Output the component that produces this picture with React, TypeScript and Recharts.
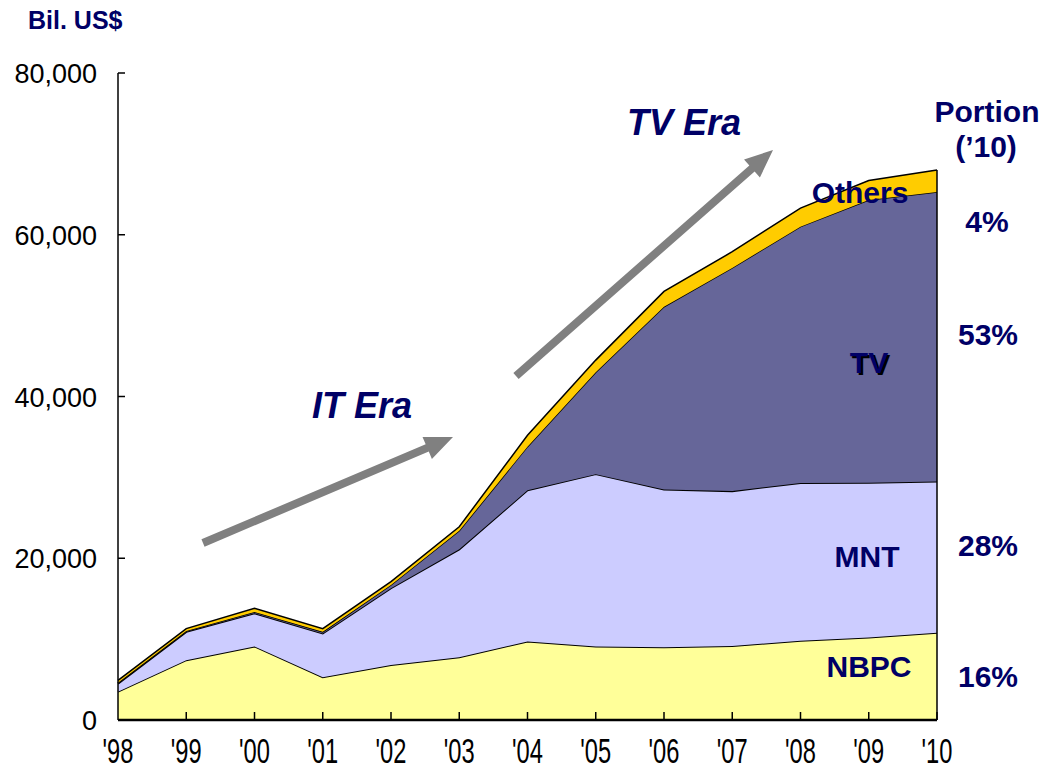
import React from 'react'
import { Area, AreaChart, ReferenceLine, XAxis, YAxis } from 'recharts'

// years and stacked values (Bil. US$)
const years = ["'98", "'99", "'00", "'01", "'02", "'03", "'04", "'05", "'06", "'07", "'08", "'09", "'10"]
const nbpc = [3500, 7400, 9100, 5300, 6800, 7750, 9700, 9100, 9000, 9150, 9800, 10200, 10800]
const mnt = [1000, 3500, 4100, 5400, 9500, 13350, 18700, 21300, 19500, 19150, 19500, 19150, 18700]
const tv = [100, 100, 150, 200, 400, 2300, 5400, 12600, 22600, 27600, 31700, 34950, 35800]
const others = [300, 300, 450, 400, 400, 500, 1400, 1500, 1900, 2000, 2300, 2400, 2700]
const yTicks = [0, 20000, 40000, 60000, 80000]

const data = years.map((year, i) => ({ year, NBPC: nbpc[i], MNT: mnt[i], TV: tv[i], Others: others[i] }))
const last = years.length - 1
const total2010 = nbpc[last] + mnt[last] + tv[last] + others[last]

const navy = '#000066'
const sans = '"Liberation Sans", Arial, sans-serif'

const XTick = (props: any) => {
  const { x, y, payload, index } = props
  return (
    <g>
      {index > 0 && <line x1={x} x2={x} y1={y - 8} y2={y} stroke="#000" strokeWidth={1.5} />}
      {/* condensed look of the original labels */}
      <text transform={`translate(${x},${y + 43}) scale(0.74,1.08)`} textAnchor="middle" fontFamily={sans}
        fontSize={32} fill="#000">
        {payload.value}
      </text>
    </g>
  )
}

const YTick = (props: any) => {
  const { x, y, payload } = props
  return (
    <g>
      <line x1={x} x2={x + 7} y1={y} y2={y} stroke="#000" strokeWidth={1.5} />
      <text x={x - 21} y={y + 10} textAnchor="end" fontFamily={sans} fontSize={27} fill="#000">
        {payload.value.toLocaleString('en-US')}
      </text>
    </g>
  )
}

// simple thick arrow polygon
const arrow = (x1: number, y1: number, x2: number, y2: number) => {
  const dx = x2 - x1, dy = y2 - y1
  const len = Math.sqrt(dx * dx + dy * dy)
  const ux = dx / len, uy = dy / len
  const px = -uy, py = ux
  const w = 4, hw = 12, hl = 28
  const bx = x2 - ux * hl, by = y2 - uy * hl
  const pts = [
    [x1 + px * w, y1 + py * w],
    [bx + px * w, by + py * w],
    [bx + px * hw, by + py * hw],
    [x2, y2],
    [bx - px * hw, by - py * hw],
    [bx - px * w, by - py * w],
    [x1 - px * w, y1 - py * w],
  ]
  return pts.map(p => p.join(',')).join(' ')
}

const Label = ({ x, y, children, size = 30, anchor = 'middle', italic = false }: any) => (
  <text x={x} y={y} textAnchor={anchor} fontFamily={sans} fontWeight="bold" fontStyle={italic ? 'italic' : 'normal'}
    fontSize={size} fill={navy}>
    {children}
  </text>
)

export default function App() {
  return (
    <div style={{ position: 'absolute', left: 0, top: 0, width: 1045, height: 776, background: '#fff' }}>
      <AreaChart width={1045} height={776} data={data} margin={{ top: 73, right: 108, left: 0, bottom: 0 }}>
        <XAxis dataKey="year" height={56} tickSize={0} tickMargin={0} tickLine={false}
          axisLine={{ stroke: '#000', strokeWidth: 2.5 }} tick={<XTick />} interval={0} />
        <YAxis width={118} domain={[0, 80000]} ticks={yTicks} tickSize={0} tickMargin={0} tickLine={false}
          axisLine={{ stroke: '#000', strokeWidth: 1.5 }} tick={<YTick />} />
        <Area type="linear" dataKey="NBPC" stackId="a" fill="#FFFF99" fillOpacity={1} stroke="#000" strokeWidth={2}
          dot={false} activeDot={false} isAnimationActive={false} />
        <Area type="linear" dataKey="MNT" stackId="a" fill="#CCCCFF" fillOpacity={1} stroke="#000" strokeWidth={2}
          dot={false} activeDot={false} isAnimationActive={false} />
        <Area type="linear" dataKey="TV" stackId="a" fill="#666699" fillOpacity={1} stroke="#000" strokeWidth={1.5}
          dot={false} activeDot={false} isAnimationActive={false} />
        <Area type="linear" dataKey="Others" stackId="a" fill="#FFCC00" fillOpacity={1} stroke="#000" strokeWidth={1.5}
          dot={false} activeDot={false} isAnimationActive={false} />
        <ReferenceLine segment={[{ x: years[last], y: 0 }, { x: years[last], y: total2010 }]} stroke="#000"
          strokeWidth={1.5} ifOverflow="visible" />
      </AreaChart>

      <svg width={1045} height={776} style={{ position: 'absolute', left: 0, top: 0, pointerEvents: 'none' }}>
        <Label x={28} y={29} size={25} anchor="start">Bil. US$</Label>

        <polygon points={arrow(203, 543, 453, 437)} fill="#808080" />
        <polygon points={arrow(516, 376, 773, 150)} fill="#808080" />
        <Label x={312} y={418} size={36} anchor="start" italic>IT Era</Label>
        <Label x={627} y={135} size={36} anchor="start" italic>TV Era</Label>

        <Label x={860} y={203}>Others</Label>
        <text x={871} y={375} textAnchor="middle" fontFamily={sans} fontWeight="bold" fontSize={30} fill="#000">TV</text>
        <Label x={869} y={373}>TV</Label>
        <Label x={867} y={567}>MNT</Label>
        <Label x={869} y={677}>NBPC</Label>

        <Label x={987} y={122}>Portion</Label>
        <Label x={986} y={157}>(’10)</Label>
        <Label x={987} y={232}>4%</Label>
        <Label x={988} y={345}>53%</Label>
        <Label x={988} y={556}>28%</Label>
        <Label x={988} y={687}>16%</Label>
      </svg>
    </div>
  )
}
